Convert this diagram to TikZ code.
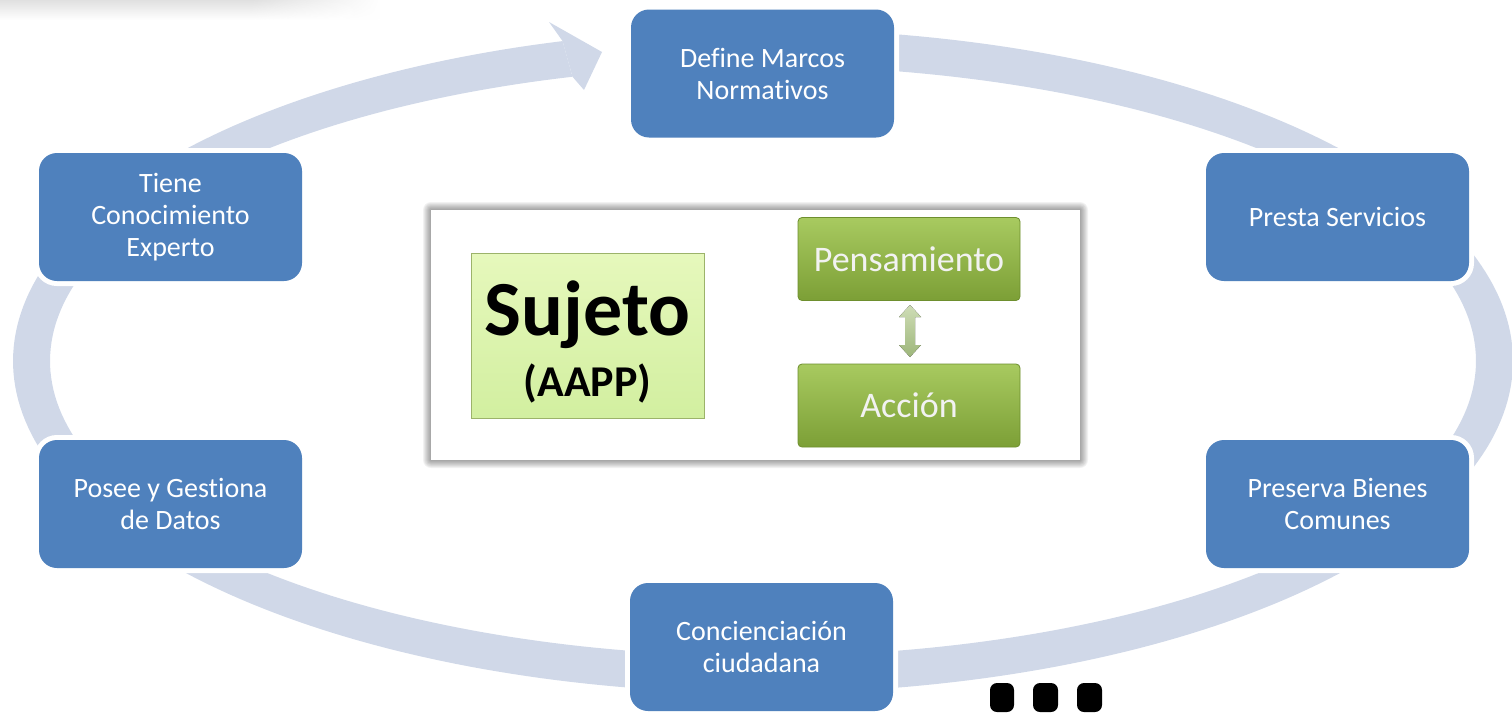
\documentclass[tikz,border=0pt]{standalone}
\usepackage{fontspec}
\setmainfont{Carlito}[Ligatures=NoCommon]
\usetikzlibrary{fadings}
\definecolor{boxblue}{HTML}{4F81BD}
\definecolor{bandcol}{HTML}{D0D8E8}
\definecolor{sujtop}{HTML}{E6F8BC}
\definecolor{sujbot}{HTML}{D2EFA0}
\definecolor{sujline}{HTML}{9CB36A}
\definecolor{gtop}{HTML}{A8CA60}
\definecolor{gbot}{HTML}{7C9F36}
\definecolor{gline}{HTML}{6E8F2E}
\definecolor{atop}{HTML}{CFDDB6}
\definecolor{abot}{HTML}{9DB67A}
\begin{document}
\begin{tikzpicture}[x=1pt,y=-1pt,
  bluebox/.style={rectangle, rounded corners=18pt, fill=boxblue,
    preaction={draw=white, line width=10pt},
    minimum width=263pt, minimum height=128pt, inner sep=0pt,
    text=white, align=center, font=\fontsize{28}{32}\selectfont},
  sujbox/.style={rectangle, top color=sujtop, bottom color=sujbot, draw=sujline, line width=0.8pt,
    minimum width=233pt, minimum height=165pt, inner sep=0pt, align=center},
  greenbox/.style={rectangle, rounded corners=4pt, top color=gtop, bottom color=gbot, draw=gline, line width=0.8pt,
    minimum width=222pt, minimum height=83pt, inner sep=0pt, text=white!95!black,
    font=\fontsize{36}{40}\selectfont},
  dotbox/.style={fill=black, rounded corners=7pt}
  ]
\useasboundingbox (0,0) rectangle (1512,712);

% faint top-left shadow
\fill[black!12, path fading=south] (0,0) rectangle (380,20);
\fill[white, path fading=west] (250,0) rectangle (382,20);

% cycle band
\fill[bandcol] plot[domain=105.5:458, samples=300, variable=\t] ({763+750*cos(\t)},{361-332*sin(\t)})
  -- plot[domain=458:105.5, samples=300, variable=\t] ({763+713*cos(\t)},{361-295*sin(\t)}) -- cycle;
% arrow head
\fill[bandcol] ({763+750*cos(105.5)},{361-332*sin(105.5)}) -- (549,22) -- (602,52) -- (584,90)
  -- ({763+713*cos(105.5)},{361-295*sin(105.5)}) -- cycle;

% boxes
\node[bluebox] (define) at (762.5,73.5) {Define Marcos\\Normativos};
\node[bluebox] (presta) at (1337.5,217) {Presta Servicios};
\node[bluebox] (preserva) at (1337.5,504) {Preserva Bienes\\Comunes};
\node[bluebox] (concien) at (761.5,647) {Concienciación\\ciudadana};
\node[bluebox] (posee) at (170.5,504) {Posee y Gestiona\\de Datos};
\node[bluebox] (tiene) at (170.5,217) {Tiene\\Conocimiento\\Experto};

% central picture with shadow
\foreach \i in {1,...,8}
  \fill[black, opacity=0.05, rounded corners=\i pt] (431-\i,210-\i) rectangle (1080+\i,460+\i);
\node[fill=white, minimum width=649pt, minimum height=250pt, inner sep=0pt] (inset) at (755.5,335) {};

\node[sujbox] (sujeto) at (587.5,335.5) {};
\node[font=\bfseries\fontsize{78}{80}\selectfont] (sujtxt) at (587.5,315) {Sujeto};
\node[font=\bfseries\fontsize{44}{46}\selectfont] (aapp) at (587.5,383) {(AAPP)};

\node[greenbox] (pens) at (909,259) {Pensamiento};
\node[greenbox] (accion) at (909,405.5) {Acción};

\fill[top color=atop, bottom color=abot] (910,305) -- (921,317) -- (915,317) -- (915,345) -- (921,345)
  -- (910,357) -- (899,345) -- (905,345) -- (905,317) -- (899,317) -- cycle;

% ellipsis
\fill[dotbox] (990,683) rectangle (1014,712);
\fill[dotbox] (1033,683) rectangle (1058,712);
\fill[dotbox] (1077,683) rectangle (1102,712);
\end{tikzpicture}
\end{document}
